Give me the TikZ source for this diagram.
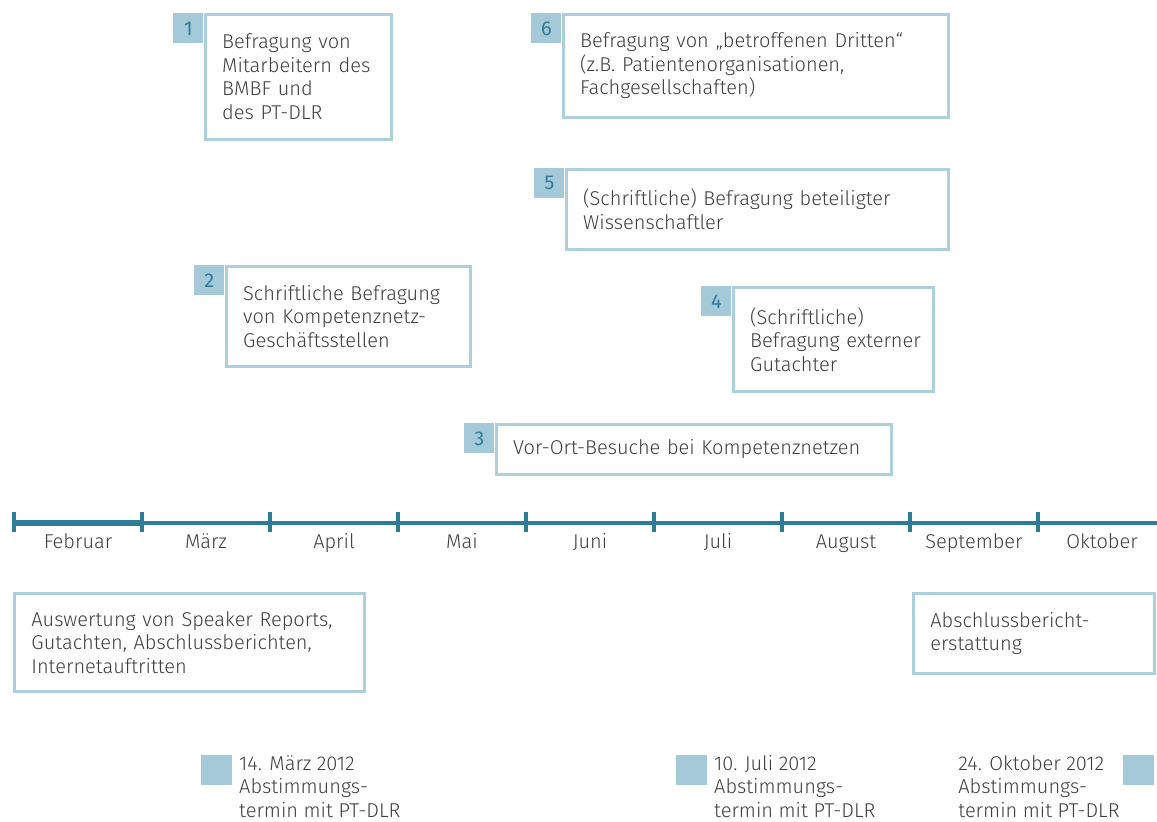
\documentclass[tikz,border=0pt]{standalone}
\usepackage{fontspec}
\setmainfont{Fira Sans}[UprightFont=* Light]
\usepackage{tikz}
\usetikzlibrary{positioning,calc}
\definecolor{mylightblue}{RGB}{164,201,216}
\definecolor{myborderblue}{RGB}{172,207,222}
\definecolor{myteal}{RGB}{46,124,151}
\definecolor{mytextgray}{RGB}{62,62,62}

\begin{document}
\begin{tikzpicture}[
  x=0.5pt, y=-0.5pt,
  every node/.style={font=\fontsize{10}{11.75}\selectfont, text=mytextgray},
  numbox/.style={
    fill=mylightblue,
    minimum width=15pt,
    minimum height=15pt,
    inner sep=0pt,
    anchor=north west,
    text=myteal,
    font=\fontsize{10}{11.75}\selectfont\addfontfeatures{UprightFont=*}
    },
  taskbox/.style 2 args={
    draw=myborderblue,
    line width=1.4pt,
    text width=#1,
    minimum height=#2,
    inner xsep=8.5pt,
    inner ysep=0pt,
    align=left,
    anchor=north west
    },
  datebox/.style={
    fill=mylightblue,
    minimum width=15.5pt,
    minimum height=15pt,
    inner sep=0pt,
    anchor=north west
    },
  datetext/.style={
    inner sep=0pt,
    align=left,
    anchor=north west
    },
  axisline/.style={draw=myteal, line width=2.3pt},
  tickmark/.style={draw=myteal, line width=2pt},
  monthlabel/.style={anchor=base}
]
\useasboundingbox (0,0) rectangle (1157,821);

% numbered interviews above the axis
\node[numbox] (n1) at (173,13) {1};
\node[taskbox={76pt}{62.5pt}] (task1) at (n1.north east)
  {Befragung von\\Mitarbeitern des\\BMBF und\\des PT-DLR};

\node[numbox] (n6) at (531,13) {6};
\node[taskbox={175.5pt}{51.5pt}] (task6) at (n6.north east)
  {Befragung von „betroffenen Dritten“\\(z.B. Patientenorganisationen,\\Fachgesellschaften)};

\node[numbox] (n5) at (534,168) {5};
\node[taskbox={174pt}{40pt}] (task5) at (n5.north east)
  {(Schriftliche) Befragung beteiligter\\Wissenschaftler};

\node[numbox] (n2) at (194,265) {2};
\node[taskbox={105pt}{50pt}] (task2) at (n2.north east)
  {Schriftliche Befragung\\von Kompetenznetz-\\Geschäftsstellen};

\node[numbox] (n4) at (701,286) {4};
\node[taskbox={83pt}{52pt}] (task4) at (n4.north east)
  {(Schriftliche)\\\mbox{Befragung externer}\\Gutachter};

\node[numbox] (n3) at (464,423) {3};
\node[taskbox={180.5pt}{25pt}] (task3) at (n3.north east)
  {Vor-Ort-Besuche bei Kompetenznetzen};

% time axis
\draw[axisline, line width=2.6pt] (13,523) -- (142,523);
\draw[axisline] (142,523) -- (1157,523);
\foreach \Month [count=\i from 0] in {Februar, März, April, Mai, Juni, Juli, August, September, Oktober}
{
  \coordinate (tick\i) at ({14+128*\i},523);
  \draw[tickmark] ($(tick\i)+(0,-11)$) -- ($(tick\i)+(0,9)$);
  \node[monthlabel] (month\i) at ({78+128*\i},548) {\Month};
}

% tasks below the axis
\node[taskbox={158pt}{49pt}] (eval) at (13,592)
  {Auswertung von Speaker Reports,\\Gutachten, Abschlussberichten,\\Internetauftritten};
\node[taskbox={103.5pt}{40pt}] (report) at (912,592)
  {Abschlussbericht-\\erstattung};

% meetings
\node[datebox] (meet1) at (201,755) {};
\node[datetext] (meet1text) at ([xshift=3pt]meet1.north east)
  {14. März 2012\\Abstimmungs-\\termin mit PT-DLR};

\node[datebox] (meet2) at (676,755) {};
\node[datetext] (meet2text) at ([xshift=3pt]meet2.north east)
  {10. Juli 2012\\Abstimmungs-\\termin mit PT-DLR};

\node[datebox] (meet3) at (1123,755) {};
\node[datetext] (meet3text) at ([xshift=-82.5pt]meet3.north west)
  {24. Oktober 2012\\Abstimmungs-\\termin mit PT-DLR};

\end{tikzpicture}
\end{document}
